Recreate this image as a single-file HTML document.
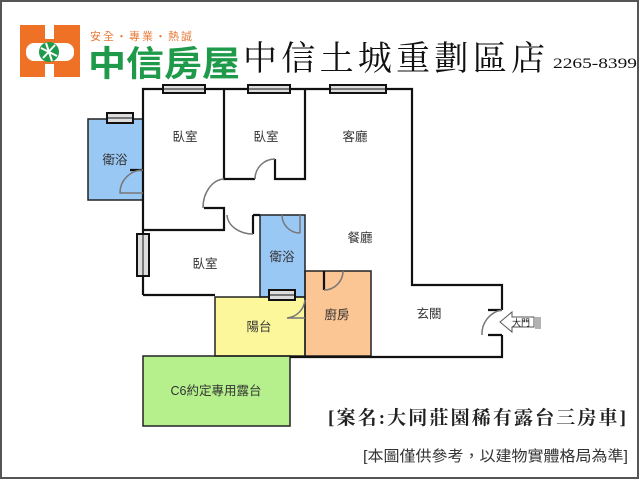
<!DOCTYPE html>
<html><head><meta charset="utf-8"><style>
body{margin:0;background:#fff}
svg{display:block}
text{font-family:"Liberation Sans","Noto Sans CJK TC",sans-serif}
</style></head><body>
<svg width="640" height="480" viewBox="0 0 640 480" xmlns="http://www.w3.org/2000/svg">
<rect x="1" y="1" width="637" height="477" fill="#fff" stroke="#555" stroke-width="2"/>
<!-- logo -->
<rect x="20" y="25" width="60" height="52" fill="#ee7125"/>
<rect x="45" y="25" width="9" height="14" fill="#fff"/>
<rect x="45" y="64" width="9" height="13" fill="#fff"/>
<rect x="26" y="43" width="48" height="18" rx="8" fill="#fff"/>
<circle cx="49" cy="52" r="10" fill="#1e9a4a"/>
<path d="M41 48 L57 56 M43 58 L55 45 M46 43 L52 61" stroke="#fff" stroke-width="2"/>
<text x="90" y="40" font-size="11" fill="#e87a3a" letter-spacing="2">安全・專業・熱誠</text>
<text x="88" y="76" font-size="35" font-weight="bold" fill="#1e9a4a" textLength="152" lengthAdjust="spacingAndGlyphs">中信房屋</text>
<text x="243" y="70" font-size="34" fill="#111" style="font-family:'Liberation Serif','Noto Serif CJK SC',serif" textLength="302" lengthAdjust="spacing">中信土城重劃區店</text>
<text x="553" y="68" font-size="15" fill="#111" style="font-family:'Liberation Serif',serif" textLength="84" lengthAdjust="spacingAndGlyphs">2265-8399</text>
<!-- fills -->
<rect x="88" y="119" width="55" height="81" fill="#9ac8f5"/>
<rect x="260" y="215" width="45" height="82" fill="#9ac8f5"/>
<rect x="215" y="297" width="90" height="59" fill="#fbf79a"/>
<rect x="305" y="271" width="66" height="85" fill="#fcc594"/>
<rect x="143" y="356" width="147" height="70" fill="#b6f08c"/>
<g fill="none" stroke="#222" stroke-width="1.5">
<rect x="88" y="119" width="55" height="81"/>
<rect x="260" y="215" width="45" height="82"/>
<rect x="215" y="297" width="90" height="59"/>
<rect x="305" y="271" width="66" height="85"/>
<rect x="143" y="356" width="147" height="70"/>
</g>
<g fill="none" stroke="#111" stroke-width="2.2">
<path d="M143 295 V89 H412 V285 H502 V310 M502 335 V357 H290"/>
<path d="M143 230 H224 V208 H204"/>
<path d="M224 89 V179 H255 M275 159 V179 H305 V89"/>
<path d="M143 295 H215"/>
<path d="M253 215 V234 M253 215 H260"/>
<path d="M143 170 H130 M324 271 V290 M488 310 H502 M488 335 H502"/>
</g>
<!-- door arcs -->
<g fill="none" stroke="#777" stroke-width="1.5">
<path d="M143 170 A23 23 0 0 0 120 193 H143"/>
<path d="M255 179 A20 20 0 0 1 275 159"/>
<path d="M224 179 A22 29 0 0 0 203 208"/>
<path d="M227 215 A26 20 0 0 0 253 234"/>
<path d="M282 215 A18 18 0 0 0 300 233 M300 215 V233"/>
<path d="M305 300 A20 20 0 0 1 287 318 M305 318 H287"/>
<path d="M324 290 A19 19 0 0 0 343 271"/>
<path d="M502 310 A24 24 0 0 0 482 335"/>
</g>
<!-- windows -->
<g fill="#ddd" stroke="#111" stroke-width="2">
<rect x="163" y="85" width="42" height="8"/><rect x="248" y="85" width="42" height="8"/><rect x="330" y="85" width="56" height="8"/>
<rect x="107" y="113" width="26" height="10"/><rect x="137" y="234" width="12" height="42"/><rect x="269" y="290" width="26" height="10"/>
</g>
<g stroke="#111" stroke-width="1">
<path d="M163 89 H205 M248 89 H290 M330 89 H386 M107 118 H133 M143 234 V276 M269 295 H295"/>
</g>
<!-- entry arrow -->
<path d="M500 322 L512 312 V317 H534 V327 H512 V332 Z" fill="#fff" stroke="#555" stroke-width="1"/>
<path d="M536 317 V329 M538 317 V329 M540 317 V329" stroke="#666"/>
<text x="512" y="326" font-size="9" fill="#111">大門</text>
<g font-size="12.5" fill="#333" text-anchor="middle">
<text x="185" y="141">臥室</text><text x="266" y="141">臥室</text><text x="355" y="141">客廳</text>
<text x="115" y="164">衛浴</text><text x="360" y="242">餐廳</text><text x="205" y="268">臥室</text>
<text x="282" y="261">衛浴</text><text x="259" y="331">陽台</text><text x="337" y="319">廚房</text>
<text x="429" y="318">玄關</text><text x="216" y="395">C6約定專用露台</text>
</g>
<text x="328" y="424" font-size="19" font-weight="bold" fill="#222" style="font-family:'Liberation Serif','Noto Serif CJK SC',serif" textLength="298" lengthAdjust="spacing">[案名:大同莊園稀有露台三房車]</text>
<text x="363" y="461" font-size="15" fill="#333" textLength="265" lengthAdjust="spacingAndGlyphs">[本圖僅供參考，以建物實體格局為準]</text>
</svg>
</body></html>
